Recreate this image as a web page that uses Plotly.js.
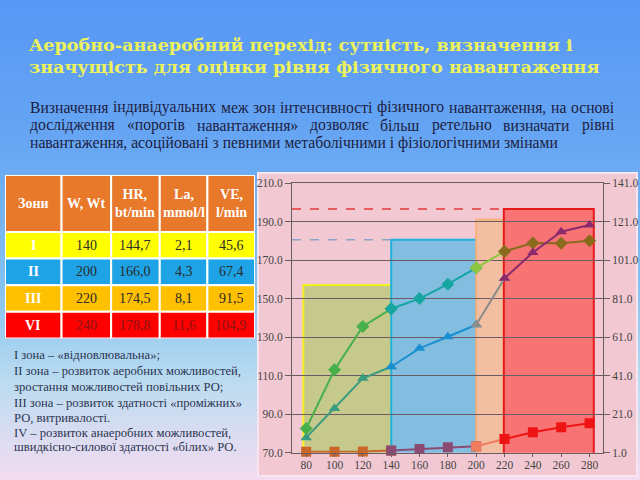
<!DOCTYPE html>
<html><head><meta charset="utf-8">
<script src="https://cdn.plot.ly/plotly-3.0.1.min.js"></script>
<style>
html,body{margin:0;padding:0;width:640px;height:480px;overflow:hidden;
background:linear-gradient(to bottom,#5897f5 0%,#66a6f3 30%,#86c2f0 60%,#bcdcf1 80%,#f4dcf1 100%);}
#chart{width:640px;height:480px;}
</style></head><body><div id="chart"></div>
<script>
// ---- data ----
const loads=[80,100,120,140,160,180,200,220,240,260,280];
const hr=[82.5,113,135.5,144.7,150,157.5,166.0,174.5,178.8,178.7,180.0];
const ve=[8.8,24,39.6,45.6,55.2,61.2,67.4,91.5,104.9,115.7,119.2];
const la=[1.5,1.5,1.6,2.1,2.9,3.8,4.3,8.1,11.6,14.2,16.3];
const zoneStart=[0,3,6,7];
const zoneEnd=[3,6,7,10];
const zoneX0=[78,140,200,219.5];
const zoneX1=[140,200,219.5,283];
const zoneTop=[157,180.5,191,196.5];
const zoneNames=['I','II','III','VI'];
const tableW=[140,200,220,240];
const tableHR=[144.7,166.0,174.5,178.8];
const tableLa=[2.1,4.3,8.1,11.6];
const tableVE=[45.6,67.4,91.5,104.9];
const headers=['Зони','W, Wt','HR,<br>bt/min','La,<br>mmol/l','VE,<br>l/min'];
const titleLines=['Аеробно-анаеробний перехід: сутність, визначення і','значущість для оцінки рівня фізичного навантаження'];
const paraLines=['Визначення індивідуальних меж зон інтенсивності фізичного навантаження, на основі',
 'дослідження «порогів навантаження» дозволяє більш ретельно визначати рівні',
 'навантаження, асоційовані з певними метаболічними і фізіологічними змінами'];
const noteLines=['І зона – «відновлювальна»;','ІІ зона – розвиток аеробних можливостей,','зростання можливостей повільних РО;',
 'ІІІ зона – розвиток здатності «проміжних»','РО, витривалості.','IV – розвиток анаеробних можливостей,','швидкісно-силової здатності «білих» РО.'];

// ---- styles ----
const hrColors=['#47b04b','#17a5a2','#8dc63f','#8a6b1e'];
const veColors=['#3a9c7e','#1b8fd2','#8c8c8c','#8c2a6e'];
const laColors=['#c9662a','#8a4a72','#f27c5e','#ee1414'];
const zoneFill=['#c5c98b','#83bee0','#f2bfa2','#f87373'];
const zoneLine=['#f4ef1e','#1fb0e2','#f6b27a','#e61a1a'];
const rowFill=['#ffff00','#1ea4e6','#ffc000','#ff0000'];
const headFill='#e8782a';
const colW=[57,50,49,48,48];
const headH=57, rowH=26.6;
const serif='Liberation Serif';
const xRange=[70,289.5];
const W=640,H=480;
const px=v=>v/W, py=v=>1-v/H;

const traces=[];
function addSeries(vals,colors,symbol,size,yax){
  for(let z=0;z<4;z++){
    const s=zoneStart[z], e=zoneEnd[z]+1;
    traces.push({type:'scatter',mode:'lines+markers',x:loads.slice(s,e),y:vals.slice(s,e),yaxis:yax,
      line:{color:colors[z],width:2},marker:{symbol:symbol,size:size,color:colors[z]},hoverinfo:'skip',cliponaxis:false});
  }
}
traces.push({type:'scatter',mode:'lines',x:[xRange[0],zoneX0[1]],y:[zoneTop[1],zoneTop[1]],line:{color:'#8aa4c8',width:1.5,dash:'dash'},hoverinfo:'skip'});
traces.push({type:'scatter',mode:'lines',x:[xRange[0],zoneX0[3]],y:[zoneTop[3],zoneTop[3]],line:{color:'#e23a3a',width:1.5,dash:'dash'},hoverinfo:'skip'});
addSeries(hr,hrColors,'diamond',10,'y');
addSeries(ve,veColors,'triangle-up',10,'y2');
addSeries(la,laColors,'square',10,'y2');
// invisible anchor trace for the table axes
const colEdges=[0];colW.forEach(w=>colEdges.push(colEdges[colEdges.length-1]+w));
const tableH=headH+rowH*zoneNames.length;
traces.push({type:'scatter',mode:'markers',x:[0,colEdges[colEdges.length-1]],y:[0,tableH],xaxis:'x3',yaxis:'y3',marker:{opacity:0},hoverinfo:'skip'});

// shapes
const shapes=[{type:'rect',xref:'paper',yref:'paper',x0:px(258),x1:px(637),y0:py(476),y1:py(173),
  fillcolor:'#f2c9d3',line:{color:'#f7e6ef',width:2},layer:'below'}];
for(let z=0;z<4;z++){
  shapes.push({type:'rect',xref:'x',yref:'y',x0:zoneX0[z],x1:zoneX1[z],y0:68.3,y1:zoneTop[z],
    fillcolor:zoneFill[z],line:{color:zoneLine[z],width:2},layer:'below'});
}

// annotations
const ann=[];
const fmt=v=>v.toFixed(1).replace('.',',');
const darkCol=['#2b2b2b','#2b2b2b','#2b2b2b','#8a1414'];
const cellText=[zoneNames,tableW.map(String),tableHR.map(fmt),tableLa.map(fmt),tableVE.map(fmt)];
for(let c=0;c<colW.length;c++){
  shapes.push({type:'rect',xref:'x3',yref:'y3',x0:colEdges[c],x1:colEdges[c+1],y0:0,y1:headH,
    fillcolor:headFill,line:{color:'white',width:2}});
  ann.push({xref:'x3',yref:'y3',x:(colEdges[c]+colEdges[c+1])/2,y:headH/2,showarrow:false,
    text:'<b>'+headers[c]+'</b>',font:{family:serif,size:14,color:'white'}});
  for(let r=0;r<zoneNames.length;r++){
    const y0=headH+r*rowH;
    shapes.push({type:'rect',xref:'x3',yref:'y3',x0:colEdges[c],x1:colEdges[c+1],y0:y0,y1:y0+rowH,
      fillcolor:rowFill[r],line:{color:'white',width:2}});
    ann.push({xref:'x3',yref:'y3',x:(colEdges[c]+colEdges[c+1])/2,y:y0+rowH/2,showarrow:false,
      text:c===0?'<b>'+cellText[c][r]+'</b>':cellText[c][r],
      font:{family:serif,size:14,color:c===0?'white':darkCol[r]}});
  }
}

const cv=document.createElement('canvas').getContext('2d');
function measure(text,size,family,bold){cv.font=(bold?'bold ':'')+size+'px "'+family+'"';return cv.measureText(text).width;}
function fitSize(text,target,family,bold){return 20*target/measure(text,20,family,bold);}
function addLine(text,x,y,size,color,bold,family){
  ann.push({xref:'paper',yref:'paper',x:px(x),y:py(y),xanchor:'left',yanchor:'middle',showarrow:false,borderpad:0,
    text:bold?'<b>'+text+'</b>':text,font:{family:family||serif,size:size,color:color}});
}
function justify(text,x0,x1,y,size,color){
  const words=text.split(' ');
  const widths=words.map(w=>measure(w,size,serif,false));
  const tot=widths.reduce((a,b)=>a+b,0);
  const gap=(x1-x0-tot)/(words.length-1);
  let x=x0;
  words.forEach((w,i)=>{addLine(w,x,y,size,color,false);x+=widths[i]+gap;});
}
const titleFont='DejaVu Serif';
const tSize=fitSize(titleLines[0],544,titleFont,true);
addLine(titleLines[0],28,45,tSize,'#eef25a',true,titleFont);
addLine(titleLines[1],28,67,tSize,'#eef25a',true,titleFont);
const pSize=fitSize(paraLines[2],528,serif,false);
justify(paraLines[0],29,613,107,pSize,'#1c2142');
justify(paraLines[1],29,613,125,pSize,'#1c2142');
addLine(paraLines[2],29,143,pSize,'#1c2142',false);
const nSize=fitSize(noteLines[1],227,serif,false);
const noteY=[355,371,387,403,418,433,447];
noteLines.forEach((t,i)=>addLine(t,13,noteY[i],nSize,'#2b3550',false));

const axFont={family:serif,size:11.5,color:'#444'};
const layout={width:W,height:H,margin:{l:0,r:0,t:0,b:0},paper_bgcolor:'rgba(0,0,0,0)',plot_bgcolor:'rgba(0,0,0,0)',
  showlegend:false,shapes:shapes,annotations:ann,
  xaxis:{domain:[px(292),px(603)],range:xRange,tickvals:loads,ticks:'outside',ticklen:3,tickcolor:'#6b5b62',
    ticklabelstandoff:-2,showgrid:false,zeroline:false,showline:true,mirror:true,linecolor:'#6b5b62',tickfont:axFont},
  yaxis:{domain:[py(452.7),py(183)],range:[70,210],tick0:70,dtick:20,tickformat:'.1f',ticks:'outside',ticklen:6,
    tickcolor:'#6b5b62',showline:true,linecolor:'#6b5b62',gridcolor:'#6b5b62',zeroline:false,tickfont:axFont},
  yaxis2:{overlaying:'y',side:'right',range:[1,141],tick0:1,dtick:20,tickformat:'.1f',ticks:'outside',ticklen:6,
    tickcolor:'#6b5b62',showline:true,linecolor:'#6b5b62',showgrid:false,zeroline:false,tickfont:axFont},
  xaxis3:{domain:[px(5),px(255)],range:[0,colEdges[colEdges.length-1]],visible:false,anchor:'y3',fixedrange:true},
  yaxis3:{domain:[py(175+tableH),py(175)],range:[tableH,0],visible:false,anchor:'x3',fixedrange:true}
};
Plotly.newPlot('chart',traces,layout,{displayModeBar:false,staticPlot:true});
</script></body></html>
